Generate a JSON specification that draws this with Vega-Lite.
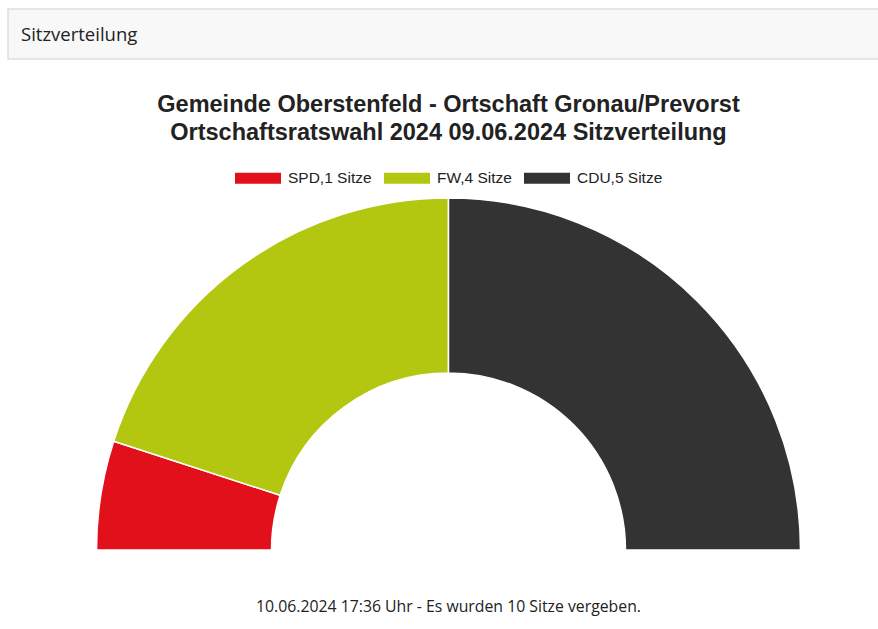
{
  "$schema": "https://vega.github.io/schema/vega-lite/v6.json",
  "padding": {"left": 7, "top": 8, "right": 0, "bottom": 20},
  "background": "white",
  "spacing": 32,
  "resolve": {"legend": {"color": "independent"}},
  "config": {
    "view": {"stroke": null},
    "font": "Liberation Sans",
    "legend": {"layout": {"top": {"anchor": "middle"}}}
  },
  "vconcat": [
    {
      "width": 881,
      "height": 50,
      "view": {"fill": "#f8f8f8", "stroke": "#dedede", "strokeWidth": 1.5},
      "data": {"values": [{"header": "Sitzverteilung"}]},
      "mark": {"type": "text", "align": "left", "baseline": "middle", "x": 13, "y": 26, "font": "Open Sans", "fontSize": 18.5, "color": "#222222"},
      "encoding": {"text": {"field": "header", "type": "nominal"}}
    },
    {
      "width": 881,
      "height": 358,
      "title": {
        "text": ["Gemeinde Oberstenfeld - Ortschaft Gronau/Prevorst", "Ortschaftsratswahl 2024 09.06.2024 Sitzverteilung"],
        "font": "Liberation Sans",
        "fontSize": 23.5,
        "fontWeight": "bold",
        "color": "#222222",
        "lineHeight": 28,
        "anchor": "middle",
        "offset": 11
      },
      "layer": [
        {
          "data": {"values": [
            {"party": "SPD", "seats": 1, "label": "SPD,1 Sitze"},
            {"party": "FW", "seats": 4, "label": "FW,4 Sitze"},
            {"party": "CDU", "seats": 5, "label": "CDU,5 Sitze"}
          ]},
          "mark": {"type": "arc", "x": {"expr": "width/2"}, "y": {"expr": "concat_1_height"}, "innerRadius": 177, "outerRadius": 352, "stroke": "white", "strokeWidth": 1.5},
          "encoding": {
            "theta": {"field": "seats", "type": "quantitative", "stack": true, "scale": {"range": [-1.5707963, 1.5707963]}},
            "order": {"field": "seats", "type": "quantitative"},
            "color": {
              "field": "label",
              "type": "nominal",
              "scale": {"domain": ["SPD,1 Sitze", "FW,4 Sitze", "CDU,5 Sitze"], "range": ["#e1101b", "#b3c711", "#333333"]},
              "legend": {
                "orient": "top",
                "direction": "horizontal",
                "title": null,
                "symbolType": "M-1,-0.24H1V0.24H-1Z",
                "symbolSize": 2116,
                "symbolStrokeWidth": 0,
                "labelFont": "Liberation Sans",
                "labelFontSize": 15.5,
                "labelColor": "#222222",
                "labelOffset": 7,
                "columnPadding": 12,
                "offset": 5
              }
            }
          }
        },
        {
          "data": {"values": [{"note": "10.06.2024 17:36 Uhr - Es wurden 10 Sitze vergeben."}]},
          "mark": {"type": "text", "align": "center", "baseline": "middle", "x": {"expr": "width/2"}, "y": {"expr": "concat_1_height + 57"}, "font": "Open Sans", "fontSize": 15.8, "color": "#222222"},
          "encoding": {"text": {"field": "note", "type": "nominal"}}
        }
      ]
    }
  ]
}
